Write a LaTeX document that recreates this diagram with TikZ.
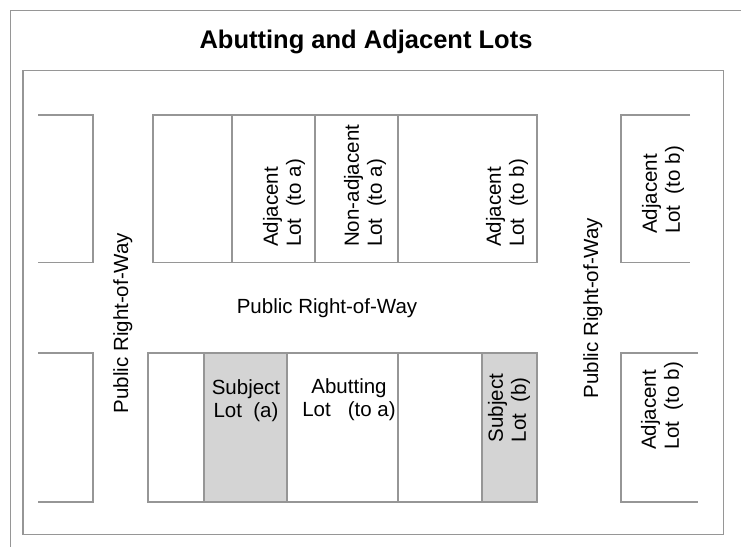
\documentclass[tikz,border=0pt]{standalone}
\usepackage{fontspec}
\setmainfont{Liberation Sans}
\definecolor{linegray}{RGB}{150,150,150}
\definecolor{lotfill}{RGB}{212,212,212}
\begin{document}
\begin{tikzpicture}[x=1pt,y=-1pt,
  lotline/.style={draw=linegray, line width=1.3pt},
  lottext/.style={inner sep=0pt, text=black, font=\fontsize{20.5}{23}\selectfont},
  vlottext/.style={lottext, rotate=90, align=left},
  hlottext/.style={lottext, align=center},
  titletext/.style={inner sep=0pt, text=black, font=\fontsize{25.5}{30}\selectfont\bfseries}]
\useasboundingbox (0,0) rectangle (741,547);

% page frame and map frame
\draw[lotline] (741,10.5) -- (10.5,10.5) -- (10.5,547);
\draw[lotline] (23,70.5) rectangle (723.5,534.5);

\node[titletext, anchor=base] (title) at (366,48) {Abutting and Adjacent Lots};

% shaded subject lots
\fill[lotfill] (204,353) rectangle (287,502);
\fill[lotfill] (482,353) rectangle (537,502);

% upper block
\draw[lotline] (153,115) rectangle (537,262.5);
\draw[lotline] (232,115) -- (232,262.5);
\draw[lotline] (315,115) -- (315,262.5);
\draw[lotline] (398,115) -- (398,262.5);

% lower block
\draw[lotline] (148,353) rectangle (537,502);
\draw[lotline] (204,353) -- (204,502);
\draw[lotline] (287,353) -- (287,502);
\draw[lotline] (398,353) -- (398,502);
\draw[lotline] (482,353) -- (482,502);

% partial blocks at the left edge
\draw[lotline] (38,115) -- (93,115) -- (93,262.5) -- (38,262.5);
\draw[lotline] (38,353) -- (93,353) -- (93,502) -- (38,502);

% partial blocks at the right edge
\draw[lotline] (690,115) -- (621,115) -- (621,262.5) -- (690,262.5);
\draw[lotline] (698,353) -- (621,353) -- (621,502) -- (698,502);

% lot labels
\node[vlottext, anchor=west] (adjA) at (284,247) {Adjacent\\Lot\ \ (to a)};
\node[vlottext, anchor=west] (nonadjA) at (365,247) {Non-adjacent\\Lot\ \ (to a)};
\node[vlottext, anchor=west] (adjBtop) at (507,247) {Adjacent\\Lot\ \ (to b)};
\node[vlottext] (adjBright1) at (663,190) {Adjacent\\Lot\ \ (to b)};
\node[vlottext] (adjBright2) at (662,406) {Adjacent\\Lot\ \ (to b)};
\node[vlottext] (subjB) at (509,408) {Subject\\Lot\ \ (b)};
\node[hlottext, anchor=north] (subjA) at (246,379) {Subject\\Lot\ \ (a)};
\node[hlottext, anchor=north] (abutA) at (349,378) {Abutting\\Lot\ \ \ (to a)};

% streets
\node[lottext, anchor=base] (rowmid) at (327,313) {Public Right-of-Way};
\node[lottext, rotate=90, anchor=base] (rowleft) at (128,323) {Public Right-of-Way};
\node[lottext, rotate=90, anchor=base] (rowright) at (598,308) {Public Right-of-Way};
\end{tikzpicture}
\end{document}
